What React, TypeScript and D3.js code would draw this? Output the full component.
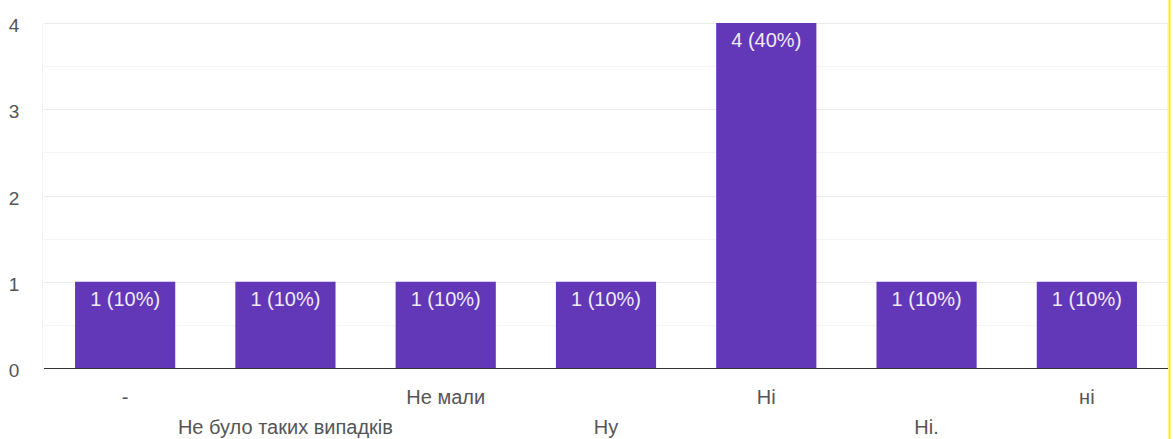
import React, { useEffect, useRef } from 'react';
import * as d3 from 'd3';

const categories = ['-', 'Не було таких випадків', 'Не мали', 'Ну', 'Ні', 'Ні.', 'ні'];
const counts = [1, 1, 1, 1, 4, 1, 1];
const percents = ['10%', '10%', '10%', '10%', '40%', '10%', '10%'];
const yTicks = [0, 1, 2, 3, 4];

export default function App() {
  const svgRef = useRef<SVGSVGElement>(null);

  useEffect(() => {
    if (!svgRef.current) return;
    const svg = d3.select(svgRef.current);
    svg.selectAll('*').remove();

    const W = 1173;
    const H = 439;
    const left = 44;
    const right = 1168;
    const top = 23;
    const bottom = 368;
    const font = 'Liberation Sans, Arial, sans-serif';

    const x = d3.scaleBand<string>()
      .domain(categories)
      .range([left + 1, right - 1])
      .paddingInner(0.375)
      .paddingOuter(0.1875);

    const y = d3.scaleLinear().domain([0, 4]).range([bottom, top]);

    svg.append('rect').attr('width', W).attr('height', H).attr('fill', '#fff');

    // gridlines (major + minor)
    const grid = d3.range(0.5, 4.01, 0.5);
    svg.append('g')
      .selectAll('line')
      .data(grid)
      .join('line')
      .attr('x1', left)
      .attr('x2', right)
      .attr('y1', d => Math.round(y(d)) + 0.5)
      .attr('y2', d => Math.round(y(d)) + 0.5)
      .attr('stroke', d => (Number.isInteger(d) ? '#ebebeb' : '#f3f3f3'))
      .attr('stroke-width', 1);

    // faint side lines
    svg.append('line')
      .attr('x1', left - 1.5).attr('x2', left - 1.5)
      .attr('y1', top).attr('y2', bottom)
      .attr('stroke', '#f3f3f3');
    svg.append('line')
      .attr('x1', right - 0.5).attr('x2', right - 0.5)
      .attr('y1', top).attr('y2', bottom)
      .attr('stroke', '#f3f3f3');

    // y tick labels
    svg.append('g')
      .selectAll('text')
      .data(yTicks)
      .join('text')
      .attr('x', 14)
      .attr('y', d => y(d) + 9)
      .attr('text-anchor', 'middle')
      .attr('font-family', font)
      .attr('font-size', 19)
      .attr('fill', '#555')
      .text(d => d);

    // bars
    svg.append('g')
      .selectAll('rect')
      .data(categories)
      .join('rect')
      .attr('x', d => x(d)!)
      .attr('width', x.bandwidth())
      .attr('y', (_, i) => y(counts[i]))
      .attr('height', (_, i) => bottom - y(counts[i]))
      .attr('fill', '#6237b8');

    // bar value labels
    svg.append('g')
      .selectAll('text')
      .data(categories)
      .join('text')
      .attr('x', d => x(d)! + x.bandwidth() / 2)
      .attr('y', (_, i) => y(counts[i]) + 24)
      .attr('text-anchor', 'middle')
      .attr('font-family', font)
      .attr('font-size', 20)
      .attr('fill', '#f0ecfa')
      .text((_, i) => `${counts[i]} (${percents[i]})`);

    // baseline
    svg.append('line')
      .attr('x1', left).attr('x2', right)
      .attr('y1', bottom + 0.5).attr('y2', bottom + 0.5)
      .attr('stroke', '#333')
      .attr('stroke-width', 1.2);

    // x category labels, staggered
    svg.append('g')
      .selectAll('text')
      .data(categories)
      .join('text')
      .attr('x', d => x(d)! + x.bandwidth() / 2)
      .attr('y', (_, i) => (i % 2 === 0 ? 404 : 434))
      .attr('text-anchor', 'middle')
      .attr('font-family', font)
      .attr('font-size', 20)
      .attr('fill', '#555')
      .text(d => d);

    // yellow edge
    svg.append('line')
      .attr('x1', 1169.5).attr('x2', 1169.5)
      .attr('y1', 0).attr('y2', H)
      .attr('stroke', '#ffee00')
      .attr('stroke-width', 2);
  }, []);

  return (
    <div style={{ position: 'fixed', left: 0, top: 0 }}>
      <svg ref={svgRef} width={1173} height={439} style={{ display: 'block' }} />
    </div>
  );
}
